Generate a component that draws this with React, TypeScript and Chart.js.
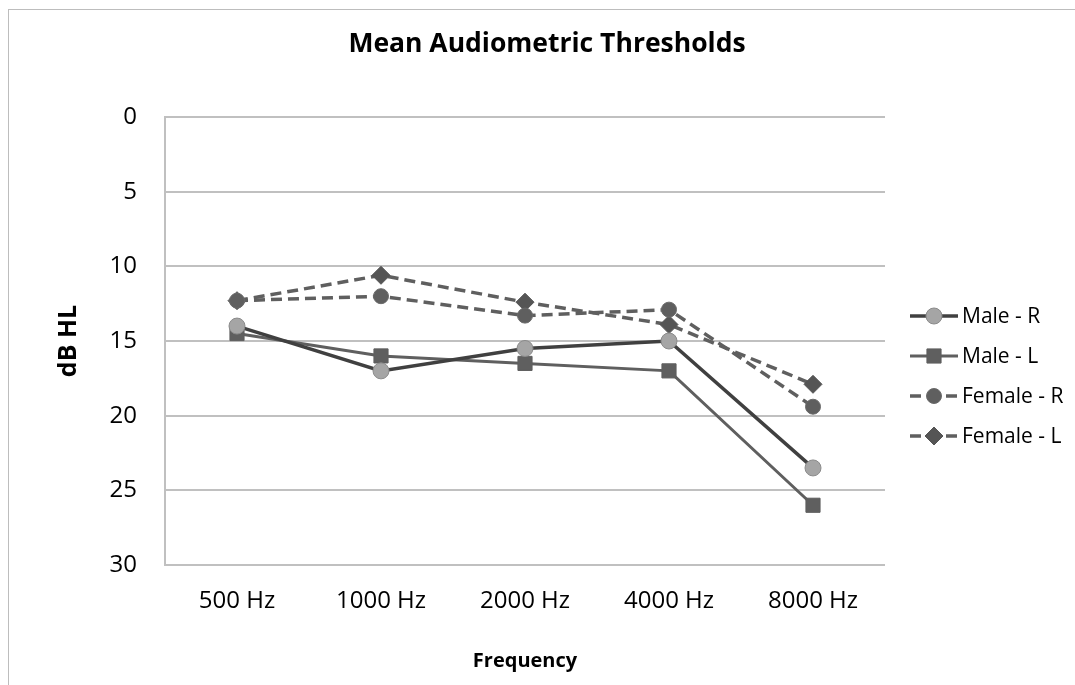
import React, { useEffect, useRef } from "react";
import { Chart, registerables } from "chart.js";

Chart.register(...registerables);

const categories = ["500 Hz", "1000 Hz", "2000 Hz", "4000 Hz", "8000 Hz"];
const maleR = [14.0, 17.0, 15.5, 15.0, 23.5];
const maleL = [14.5, 16.0, 16.5, 17.0, 26.0];
const femaleR = [12.3, 12.0, 13.3, 12.9, 19.4];
const femaleL = [12.3, 10.6, 12.4, 13.9, 17.9];
const seriesNames = ["Male - R", "Male - L", "Female - R", "Female - L"];
const yTicks = [0, 5, 10, 15, 20, 25, 30];

const FONT = "'Open Sans', 'Noto Sans', sans-serif";

const customDecor = {
  id: "customDecor",
  afterDraw(chart: any) {
    const ctx = chart.ctx;
    ctx.save();
    // title
    ctx.fillStyle = "#000";
    ctx.font = `bold 26.5px ${FONT}`;
    ctx.textAlign = "center";
    ctx.textBaseline = "middle";
    ctx.fillText("Mean Audiometric Thresholds", 547, 44);
    // legend
    const ys = [316, 356, 396, 436];
    chart.data.datasets.forEach((ds: any, i: number) => {
      const y = ys[i];
      ctx.beginPath();
      ctx.strokeStyle = ds.borderColor;
      ctx.lineWidth = ds.borderWidth;
      ctx.setLineDash(ds.borderDash || []);
      if (ds.borderDash) {
        ctx.moveTo(910, y);
        ctx.lineTo(922, y);
        ctx.moveTo(946, y);
        ctx.lineTo(958, y);
      } else {
        ctx.moveTo(910, y);
        ctx.lineTo(958, y);
      }
      ctx.stroke();
      ctx.setLineDash([]);
      const r = ds.pointRadius;
      ctx.fillStyle = ds.pointBackgroundColor;
      ctx.strokeStyle = ds.pointBorderColor;
      ctx.lineWidth = ds.pointBorderWidth;
      const cx = 934;
      ctx.beginPath();
      if (ds.pointStyle === "circle") {
        ctx.arc(cx, y, r, 0, Math.PI * 2);
      } else if (ds.pointStyle === "rect") {
        const s = r * Math.SQRT1_2;
        ctx.rect(cx - s, y - s, 2 * s, 2 * s);
      } else {
        ctx.moveTo(cx, y - r);
        ctx.lineTo(cx + r, y);
        ctx.lineTo(cx, y + r);
        ctx.lineTo(cx - r, y);
        ctx.closePath();
      }
      ctx.fill();
      ctx.stroke();
      ctx.fillStyle = "#000";
      ctx.font = `21px ${FONT}`;
      ctx.textAlign = "left";
      ctx.textBaseline = "middle";
      ctx.fillText(ds.label, 962, y + 1);
    });
    ctx.restore();
  },
};

export default function App() {
  const ref = useRef<HTMLCanvasElement>(null);
  useEffect(() => {
    const canvas = ref.current!;
    const chart = new Chart(canvas, {
      type: "line",
      data: {
        labels: categories,
        datasets: [
          {
            label: seriesNames[0],
            data: maleR,
            borderColor: "#404040",
            borderWidth: 3.5,
            pointStyle: "circle",
            pointRadius: 8,
            pointBackgroundColor: "#a5a5a5",
            pointBorderColor: "#8a8a8a",
            pointBorderWidth: 1,
          },
          {
            label: seriesNames[1],
            data: maleL,
            borderColor: "#5f5f5f",
            borderWidth: 3,
            pointStyle: "rect",
            pointRadius: 10,
            pointBackgroundColor: "#5f5f5f",
            pointBorderColor: "#5f5f5f",
            pointBorderWidth: 1,
          },
          {
            label: seriesNames[2],
            data: femaleR,
            borderColor: "#5f5f5f",
            borderWidth: 3.5,
            borderDash: [11, 6],
            pointStyle: "circle",
            pointRadius: 7.5,
            pointBackgroundColor: "#5f5f5f",
            pointBorderColor: "#6a6a6a",
            pointBorderWidth: 1,
          },
          {
            label: seriesNames[3],
            data: femaleL,
            borderColor: "#5f5f5f",
            borderWidth: 3.5,
            borderDash: [11, 6],
            pointStyle: "rectRot",
            pointRadius: 9,
            pointBackgroundColor: "#555555",
            pointBorderColor: "#555555",
            pointBorderWidth: 1,
          },
        ] as any,
      },
      options: {
        animation: false,
        responsive: false,
        layout: { padding: { top: 117, right: 190, left: 0, bottom: 0 } },
        plugins: {
          legend: { display: false },
          title: { display: false },
          tooltip: { enabled: false },
        },
        scales: {
          x: {
            offset: true,
            grid: { display: false, drawTicks: false },
            border: { display: false },
            ticks: {
              color: "#000",
              font: { family: FONT, size: 24 },
              padding: 22,
            },
            title: {
              display: true,
              text: "Frequency",
              color: "#000",
              font: { family: FONT, size: 20, weight: "bold" },
              padding: { top: 0, bottom: 12 },
            },
            afterFit: (s: any) => {
              s.height = 120;
            },
          },
          y: {
            reverse: true,
            min: 0,
            max: 30,
            afterBuildTicks: (s: any) => {
              s.ticks = yTicks.map((v) => ({ value: v }));
            },
            grid: {
              color: "#c0c0c0",
              lineWidth: 2,
              drawTicks: false,
            },
            border: { display: true, color: "#c0c0c0", width: 2 },
            ticks: {
              color: "#000",
              font: { family: FONT, size: 24 },
              padding: 28,
            },
            title: {
              display: true,
              text: "dB HL",
              color: "#000",
              font: { family: FONT, size: 25, weight: "bold" },
              padding: { top: 54, bottom: 0 },
            },
            afterFit: (s: any) => {
              s.width = 165;
            },
          },
        },
      },
      plugins: [customDecor],
    });
    return () => chart.destroy();
  }, []);
  return (
    <div
      style={{
        position: "fixed",
        left: 0,
        top: 0,
        width: 1075,
        height: 685,
        background: "#fff",
        overflow: "hidden",
      }}
    >
      <div
        style={{
          position: "absolute",
          left: 8,
          top: 9,
          width: 1100,
          height: 700,
          borderLeft: "1.5px solid #bdbdbd",
          borderTop: "1.5px solid #bdbdbd",
        }}
      />
      <canvas ref={ref} width={1075} height={685} style={{ position: "absolute", left: 0, top: 0 }} />
    </div>
  );
}
